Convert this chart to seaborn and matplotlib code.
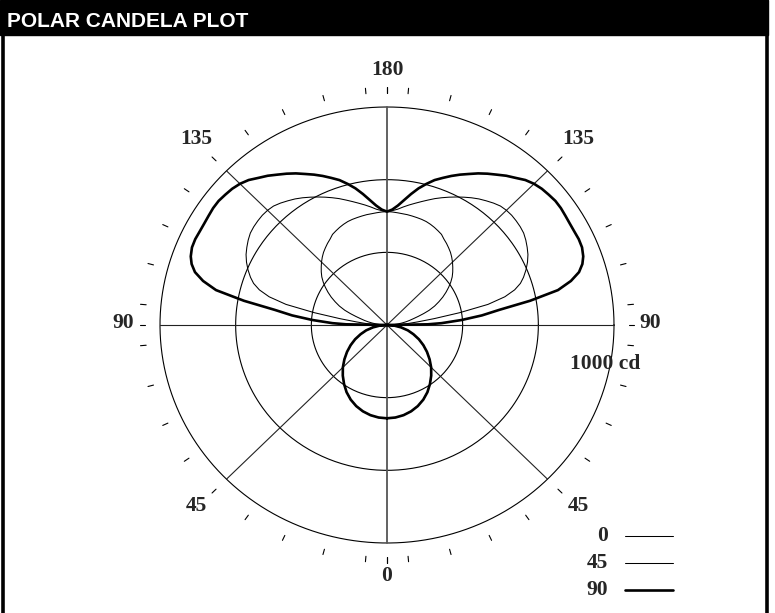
"""Polar candela plot (batwing luminaire), three horizontal planes."""
import matplotlib.pyplot as plt
import numpy as np
import seaborn as sns
from matplotlib.lines import Line2D
from matplotlib.patches import Rectangle

sns.set_style("white")
plt.rcParams["font.family"] = ["Liberation Serif", "DejaVu Serif"]

# vertical angles (deg from nadir) and intensities (cd) per horizontal plane
LOWER_ANGLES = [0, 5, 10, 15, 20, 25, 30, 35, 40, 45,
                50, 55, 60, 65, 70, 75, 80, 85, 90]
UPPER_ANGLES = [91, 92, 94, 96, 98, 100, 102, 104, 106, 108,
                110, 112.5, 115, 117.5, 120, 122.5, 125, 127.5, 130, 132.5,
                135, 137.5, 140, 142.5, 145, 147.5, 150, 152.5, 155, 157.5,
                160, 162.5, 165, 167.5, 170, 172.5, 175, 177.5, 180]
ANGLES = LOWER_ANGLES + UPPER_ANGLES

LOWER = [428, 426, 420, 410, 396, 378, 356, 330, 303, 275,
         245, 215, 185, 155, 124, 95, 63, 32, 0]
CD_0 = LOWER + [8, 16, 34, 50, 67, 85, 102, 120, 143, 170,
                198, 227, 252, 277, 300, 322, 343, 362, 378, 393,
                408, 422, 435, 446, 457, 467, 480, 487, 494, 500,
                505, 508, 510, 512, 514, 515, 517, 519, 520]
CD_45 = LOWER + [20, 45, 90, 135, 210, 325, 455, 535, 585, 618,
                 640, 663, 683, 700, 713, 725, 735, 740, 743, 745,
                 744, 740, 730, 718, 706, 692, 677, 662, 647, 632,
                 617, 601, 586, 572, 559, 546, 533, 525, 520]
CD_90 = LOWER + [180, 240, 330, 420, 500, 640, 770, 835, 880, 905,
                 920, 930, 932, 930, 930, 932, 935, 935, 930, 925,
                 916, 902, 881, 863, 842, 823, 803, 781, 761, 740,
                 718, 697, 670, 642, 610, 578, 550, 530, 520]
PLANES = ["0", "45", "90"]
WIDTHS = [0.75, 0.75, 1.9]

RINGS = [333.3, 666.7, 1000]
RING_LABEL = "1000 cd"
TICK_ANGLES = [0, 5, 15, 25, 35, 45, 55, 65, 75, 85, 90,
               95, 105, 115, 125, 135, 145, 155, 165, 175, 180]
LABEL_ANGLES = [0, 45, 90, 135, 180]

W, H = 775, 613
CX, CY, SX, SY = 387, 325, 227, 218   # centre and pixel scale of the polar grid


def px(x, y):
    return (x - CX) / SX, (CY - y) / SY


def polar_loop(cd):
    r = np.asarray(cd) / RINGS[-1]
    t = np.radians(ANGLES)
    xs = np.concatenate([-r * np.sin(t), (r * np.sin(t))[::-1]])
    ys = np.concatenate([-r * np.cos(t), (-r * np.cos(t))[::-1]])
    return xs, ys


fig = plt.figure(figsize=(W / 100, H / 100), dpi=100)
ax = fig.add_axes([0, 0, 1, 1])
ax.set_xlim(px(0, 0)[0], px(W, 0)[0])
ax.set_ylim(px(0, H)[1], px(0, 0)[1])
ax.axis("off")

# grid: rings and spokes
g = np.linspace(0, 2 * np.pi, 400)
for rr in RINGS:
    k = rr / RINGS[-1]
    ax.plot(k * np.cos(g), k * np.sin(g), color="black", lw=0.8, zorder=1)
for a, c, w in [(0, "#555555", 1.3), (45, "#222222", 0.8),
                (90, "#222222", 0.8), (135, "#222222", 0.8)]:
    t = np.radians(a)
    ax.plot([-np.sin(t), np.sin(t)], [-np.cos(t), np.cos(t)],
            color=c, lw=w, zorder=1)

# tick dashes outside the outer ring
for a in TICK_ANGLES:
    t = np.radians(a)
    for s in (-1, 1):
        ax.plot([s * 1.065 * np.sin(t), s * 1.09 * np.sin(t)],
                [-1.065 * np.cos(t), -1.09 * np.cos(t)],
                color="black", lw=0.8)

# angle labels
lab_kw = dict(ha="center", va="center", fontsize=15.5, fontweight="bold")
for a in LABEL_ANGLES:
    t = np.radians(a)
    rl = 1.19 if a in (45, 135) else 1.16
    sides = (1,) if a in (0, 180) else (-1, 1)
    for s in sides:
        ax.text(s * rl * np.sin(t), -rl * np.cos(t) + 0.01, str(a), **lab_kw)
ax.text(0.96, -0.18, RING_LABEL, **lab_kw)

# candela curves
for cd, lw in zip([CD_0, CD_45, CD_90], WIDTHS):
    xs, ys = polar_loop(cd)
    sns.lineplot(x=xs, y=ys, sort=False, estimator=None, color="black",
                 lw=lw, ax=ax, zorder=3)

# legend
for i, (name, lw) in enumerate(zip(PLANES, WIDTHS)):
    yy = 536 + i * 27.2
    lx, ly = px(608, yy)
    ax.text(lx, ly, name, ha="right", va="center", fontsize=15.5, fontweight="bold")
    x0, _ = px(625, yy)
    x1, _ = px(673, yy)
    ax.plot([x0, x1], [ly, ly], color="black", lw=lw)

# header bar and frame
fig.patches.append(Rectangle((0, 1 - 35 / H), 768 / W, 35 / H, color="black",
                             transform=fig.transFigure, zorder=5))
fig.text(7 / W, 1 - 27 / H, "POLAR CANDELA PLOT", color="white",
         family="Liberation Sans", fontweight="bold", fontsize=15, zorder=6)
for xp in (3, 766.5):
    fig.lines.append(Line2D([xp / W, xp / W], [0, 1], color="black", lw=2.6,
                            transform=fig.transFigure, zorder=5))

fig.savefig("out.png", dpi=100)
